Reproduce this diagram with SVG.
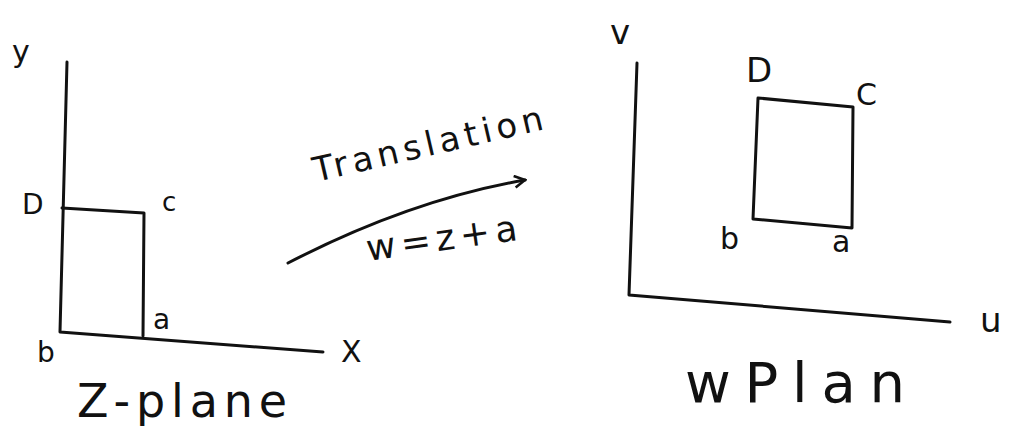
<svg xmlns="http://www.w3.org/2000/svg" width="1009" height="426" viewBox="0 0 1009 426">
<defs>
<style>
.ln{fill:none;stroke:#111;stroke-width:3;stroke-linecap:round;stroke-linejoin:round}
.t{font-family:"DejaVu Sans","Liberation Sans",sans-serif;fill:#111}
</style>
<marker id="ah" viewBox="0 0 12 12" refX="10" refY="6" markerWidth="14" markerHeight="14" markerUnits="userSpaceOnUse" orient="auto">
<path d="M1,1 L10,6 L1,11" fill="none" stroke="#111" stroke-width="2.2"/>
</marker>
</defs>
<rect width="1009" height="426" fill="#fff"/>
<g id="z-plane">
<path class="ln" d="M67,62 L60,332 L323,352"/>
<path class="ln" d="M62,208 L144,213 L143,336"/>
<text class="t" x="12" y="62" font-size="30">y</text>
<text class="t" x="22" y="214" font-size="28">D</text>
<text class="t" x="162" y="211" font-size="26">c</text>
<text class="t" x="153" y="329" font-size="28">a</text>
<text class="t" x="37" y="362" font-size="28">b</text>
<text class="t" x="341" y="362" font-size="30">X</text>
<text class="t" x="77" y="417" font-size="46" textLength="210" lengthAdjust="spacing">Z-plane</text>
</g>
<g id="w-plane">
<path class="ln" d="M637,63 L629,295 L950,322"/>
<path class="ln" d="M758,98 L853,107 L852,228 L753,219 Z"/>
<text class="t" x="610" y="44" font-size="34">v</text>
<text class="t" x="746" y="82" font-size="34">D</text>
<text class="t" x="856" y="105" font-size="30">C</text>
<text class="t" x="720" y="249" font-size="30">b</text>
<text class="t" x="832" y="252" font-size="30">a</text>
<text class="t" x="980" y="332" font-size="34">u</text>
<text class="t" x="685" y="402" font-size="56" textLength="220" lengthAdjust="spacing">wPlan</text>
</g>
<g id="connectors">
<path class="ln" d="M288,263 Q410,200 525,180" marker-end="url(#ah)"/>
<text class="t" font-size="34" transform="translate(316,182) rotate(-13)" textLength="235" lengthAdjust="spacing">Translation</text>
<text class="t" font-size="36" transform="translate(368,261) rotate(-8)" textLength="152" lengthAdjust="spacing">w=z+a</text>
</g>
</svg>
